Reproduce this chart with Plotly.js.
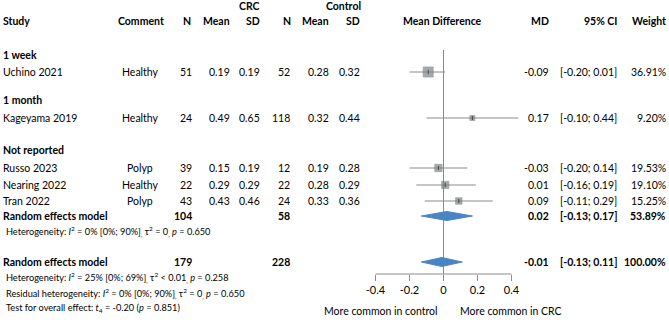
<!DOCTYPE html>
<html>
<head>
<meta charset="utf-8">
<script src="https://cdn.plot.ly/plotly-3.0.1.min.js"></script>
<style>html,body{margin:0;padding:0;background:#fff;}#chart{width:669px;height:323px;}</style>
</head>
<body>
<div id="chart"></div>
<script>
// ---- data ----
const studies   = ["Uchino 2021", "Kageyama 2019", "Russo 2023", "Nearing 2022", "Tran 2022"];
const comments  = ["Healthy", "Healthy", "Polyp", "Healthy", "Polyp"];
const nCRC      = [51, 24, 39, 22, 43];
const meanCRC   = [0.19, 0.49, 0.15, 0.29, 0.43];
const sdCRC     = [0.19, 0.65, 0.19, 0.29, 0.46];
const nCtrl     = [52, 118, 12, 22, 24];
const meanCtrl  = [0.28, 0.32, 0.19, 0.28, 0.33];
const sdCtrl    = [0.32, 0.44, 0.28, 0.29, 0.36];
const md        = [-0.09, 0.17, -0.03, 0.01, 0.09];
const ciLo      = [-0.20, -0.10, -0.20, -0.16, -0.11];
const ciHi      = [0.01, 0.44, 0.14, 0.19, 0.29];
const weight    = [36.91, 9.20, 19.53, 19.10, 15.25];
const subgroups = ["1 week", "1 month", "Not reported"];
// pooled results: [subgroup "Not reported", overall]
const poolLabel = ["Random effects model", "Random effects model"];
const poolNCRC  = [104, 179];
const poolNCtrl = [58, 228];
const poolMD    = [0.02, -0.01];
const poolLo    = [-0.13, -0.13];
const poolHi    = [0.17, 0.11];
const poolW     = [53.89, 100.00];
const tickVals  = [-0.4, -0.2, 0, 0.2, 0.4];
const tickText  = ["-0.4", "-0.2", "0", "0.2", "0.4"];
const notes = [
  "Heterogeneity: <i>I</i><sup>2</sup> = 0% [0%; 90%]<sub>,</sub> τ<sup>2</sup> = 0<sub>,</sub> <i>p</i> = 0.650",
  "Heterogeneity: <i>I</i><sup>2</sup> = 25% [0%; 69%]<sub>,</sub> τ<sup>2</sup> &lt; 0.01<sub>,</sub> <i>p</i> = 0.258",
  "Residual heterogeneity: <i>I</i><sup>2</sup> = 0% [0%; 90%]<sub>,</sub> τ<sup>2</sup> = 0<sub>,</sub> <i>p</i> = 0.650",
  "Test for overall effect: <i>t</i><sub>4</sub>&nbsp;=&nbsp;-0.20 (<i>p</i> = 0.851)"
];

// ---- layout (pixel rows) ----
const W = 669, H = 323;
const studyRow = [72, 118, 168, 185, 201];
const subRow = [55, 100, 150];
const poolRow = [216, 262];
const noteRow = [231, 277, 293, 308];
const axisY = 274;
const FONT = "Lato, 'Open Sans', sans-serif";
const FS = 10.5;

const annotations = [];
function ann(text, xpx, ypx, align, opts) {
  opts = opts || {};
  annotations.push({
    text: opts.bold ? "<b>" + text + "</b>" : text,
    x: xpx / W, xref: "paper", y: ypx, yref: "y",
    xanchor: align, yanchor: "middle", showarrow: false,
    font: {family: FONT, size: opts.size || FS, color: "#000"},
    borderpad: 0
  });
}
const f2 = v => v.toFixed(2);
const ci = (a, b) => "[" + f2(a) + "; " + f2(b) + "]";
const pct = v => v.toFixed(2) + "%";

// header
ann("CRC", 261, 6, "right", {bold: true});
ann("Control", 362, 6, "right", {bold: true});
ann("Study", 2, 21, "left", {bold: true});
ann("Comment", 141, 21, "center", {bold: true});
ann("N", 192, 21, "right", {bold: true});
ann("Mean", 231, 21, "right", {bold: true});
ann("SD", 261, 21, "right", {bold: true});
ann("N", 292, 21, "right", {bold: true});
ann("Mean", 330, 21, "right", {bold: true});
ann("SD", 361, 21, "right", {bold: true});
ann("Mean Difference", 443, 21, "center", {bold: true});
ann("MD", 550, 21, "right", {bold: true});
ann("95% CI", 618, 21, "right", {bold: true});
ann("Weight", 667, 21, "right", {bold: true});

subgroups.forEach((s, i) => ann(s, 2, subRow[i], "left", {bold: true}));
studies.forEach((s, i) => {
  const y = studyRow[i];
  ann(s, 2, y, "left");
  ann(comments[i], 140, y, "center");
  ann(String(nCRC[i]), 193, y, "right");
  ann(f2(meanCRC[i]), 231, y, "right");
  ann(f2(sdCRC[i]), 261, y, "right");
  ann(String(nCtrl[i]), 291, y, "right");
  ann(f2(meanCtrl[i]), 330, y, "right");
  ann(f2(sdCtrl[i]), 361, y, "right");
  ann(f2(md[i]), 550, y, "right");
  ann(ci(ciLo[i], ciHi[i]), 618, y, "right");
  ann(pct(weight[i]), 667, y, "right");
});
poolLabel.forEach((s, i) => {
  const y = poolRow[i];
  ann(s, 2, y, "left", {bold: true});
  ann(String(poolNCRC[i]), 193, y, "right", {bold: true});
  ann(String(poolNCtrl[i]), 291, y, "right", {bold: true});
  ann(f2(poolMD[i]), 550, y, "right", {bold: true});
  ann(ci(poolLo[i], poolHi[i]), 618, y, "right", {bold: true});
  ann(pct(poolW[i]), 667, y, "right", {bold: true});
});
notes.forEach((s, i) => ann(s, 5, noteRow[i], "left", {size: 9.2}));
ann("More common in control", 439, 311, "right");
ann("More common in CRC", 459, 311, "left");

// ---- traces ----
const ciX = [], ciY = [];
md.forEach((m, i) => { ciX.push(ciLo[i], ciHi[i], null); ciY.push(studyRow[i], studyRow[i], null); });
const traces = [];
traces.push({x: ciX, y: ciY, mode: "lines", line: {color: "#8a8a8a", width: 1}, hoverinfo: "skip", showlegend: false});
traces.push({
  x: md, y: studyRow, mode: "markers",
  marker: {symbol: "square", size: weight.map(w => 1.66 * Math.sqrt(w)), color: "#80868a", line: {color: "#666b6b", width: 0.6}},
  showlegend: false
});
traces.push({x: md, y: studyRow, mode: "markers", marker: {symbol: "line-ns", size: 3, line: {color: "#444", width: 1}}, showlegend: false});
const dh = 4.5;
poolMD.forEach((m, i) => {
  const y = poolRow[i];
  traces.push({
    x: [poolLo[i], m, poolHi[i], m, poolLo[i]],
    y: [y, y - dh, y, y + dh, y],
    mode: "lines", fill: "toself", fillcolor: "#4a85c3",
    line: {color: "#4a85c3", width: 1}, showlegend: false, hoverinfo: "skip"
  });
});

const pxPerUnit = 170, zeroPx = 443.5, half = 0.65;
const layout = {
  width: W, height: H,
  margin: {l: 0, r: 0, t: 0, b: 0},
  paper_bgcolor: "#fff", plot_bgcolor: "rgba(0,0,0,0)",
  showlegend: false,
  font: {family: FONT, size: FS, color: "#000"},
  xaxis: {
    range: [-half, half],
    domain: [(zeroPx - half * pxPerUnit) / W, (zeroPx + half * pxPerUnit) / W],
    anchor: "free", position: 1 - axisY / H,
    showline: false, showgrid: false, zeroline: false,
    ticks: "outside", ticklen: 6, tickwidth: 1, tickcolor: "#8a8a8a",
    tickvals: tickVals, ticktext: tickText,
    tickfont: {family: FONT, size: 11, color: "#000"}
  },
  yaxis: {range: [H, 0], domain: [0, 1], visible: false, showgrid: false, zeroline: false},
  shapes: [
    {type: "line", xref: "x", yref: "y", x0: tickVals[0], x1: tickVals[tickVals.length - 1], y0: axisY, y1: axisY, line: {color: "#8a8a8a", width: 1}},
    {type: "line", xref: "x", yref: "y", x0: 0, x1: 0, y0: 50, y1: axisY, line: {color: "#8a8a8a", width: 1}, layer: "below"}
  ],
  annotations: annotations
};
Plotly.newPlot("chart", traces, layout, {staticPlot: true, displayModeBar: false});
</script>
</body>
</html>
